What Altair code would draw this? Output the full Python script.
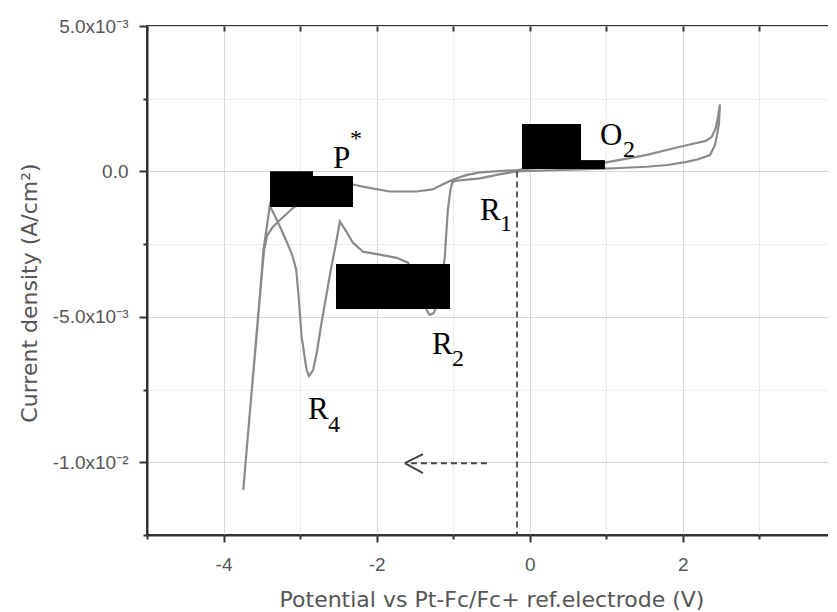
import json
import altair as alt
import pandas as pd

# ---------------- data ----------------
# cyclic voltammogram, in scan order: forward (towards negative), reverse, return
CV_E = [
    -0.17, -0.40, -0.65, -0.85, -0.96, -1.01, -1.03, -1.045, -1.07, -1.09, -1.11, -1.15, -1.21, -1.26,
    -1.31, -1.35, -1.40, -1.48, -1.59, -1.74, -1.96, -2.18, -2.31, -2.40, -2.48, -2.53, -2.60, -2.66,
    -2.72, -2.78, -2.83, -2.885, -2.915, -2.98, -3.02, -3.05, -3.10, -3.17, -3.28, -3.35, -3.39, -3.385,
    -3.40, -3.44, -3.48, -3.50, -3.59, -3.67, -3.742,
    -3.665, -3.585, -3.495, -3.47, -3.43, -3.36, -3.26, -3.09, -2.90, -2.60, -2.31, -2.13, -1.83, -1.48,
    -1.27, -1.14, -1.00, -0.82, -0.65, -0.40, -0.17, 0.00, 0.30, 0.65, 0.98, 1.25, 1.53, 1.75, 1.96, 2.15,
    2.30, 2.38, 2.43, 2.46, 2.484,
    2.47, 2.42, 2.354, 2.20, 2.05, 1.80, 1.53, 1.10, 0.656, 0.30, 0.00, -0.17,
]
CV_J = [
    0.0, -0.10e-3, -0.24e-3, -0.29e-3, -0.32e-3, -0.36e-3, -0.55e-3, -0.80e-3, -1.33e-3, -2.10e-3, -2.94e-3,
    -3.80e-3, -4.60e-3, -4.88e-3, -4.93e-3, -4.75e-3, -4.25e-3, -3.55e-3, -3.14e-3, -2.97e-3, -2.86e-3,
    -2.76e-3, -2.45e-3, -2.05e-3, -1.72e-3, -2.45e-3, -3.40e-3, -4.30e-3, -5.20e-3, -6.20e-3, -6.83e-3,
    -7.03e-3, -6.83e-3, -5.68e-3, -4.30e-3, -3.39e-3, -2.90e-3, -2.45e-3, -1.80e-3, -1.42e-3, -1.21e-3,
    -1.02e-3, -1.25e-3, -2.00e-3, -2.72e-3, -3.45e-3, -6.25e-3, -8.70e-3, -10.95e-3,
    -8.55e-3, -6.15e-3, -3.40e-3, -2.70e-3, -2.20e-3, -1.92e-3, -1.66e-3, -1.25e-3, -0.90e-3, -0.62e-3,
    -0.45e-3, -0.55e-3, -0.69e-3, -0.69e-3, -0.62e-3, -0.45e-3, -0.28e-3, -0.12e-3, -0.03e-3, 0.01e-3,
    0.05e-3, 0.10e-3, 0.16e-3, 0.23e-3, 0.30e-3, 0.43e-3, 0.57e-3, 0.71e-3, 0.85e-3, 0.96e-3, 1.05e-3,
    1.20e-3, 1.50e-3, 1.90e-3, 2.30e-3,
    1.60e-3, 0.91e-3, 0.56e-3, 0.42e-3, 0.33e-3, 0.22e-3, 0.16e-3, 0.11e-3, 0.07e-3, 0.04e-3, 0.02e-3, 0.0,
]

# black redaction boxes
BOX_X1 = [-3.393, -3.393, -2.531, -0.102, 0.669]
BOX_X2 = [-2.832, -2.309, -1.042, 0.669, 0.982]
BOX_Y1 = [0.01e-3, -0.16e-3, -3.18e-3, 1.63e-3, 0.39e-3]
BOX_Y2 = [-1.22e-3, -1.22e-3, -4.73e-3, 0.08e-3, 0.08e-3]

# peak labels (serif): main letters, subscripts, superscript
LABEL_TEXT = ["P", "R", "O", "R", "R"]
LABEL_X = [-2.571, -0.650, 0.917, -1.277, -2.897]
LABEL_Y = [0.12e-3, -1.67e-3, 0.91e-3, -6.28e-3, -8.51e-3]
SUB_TEXT = ["1", "2", "2", "4"]
SUB_X = [-0.389, 1.218, -1.016, -2.636]
SUB_Y = [-2.05e-3, 0.50e-3, -6.69e-3, -8.96e-3]
SUP_TEXT = ["*"]
SUP_X = [-2.349]
SUP_Y = [0.87e-3]

# dashed vertical marker and scan-direction arrow
VLINE_X = [-0.167]
VLINE_Y1 = [0.0]
VLINE_Y2 = [-0.0125]
ARROW_X1 = [-0.56]
ARROW_X2 = [-1.56]
ARROW_Y = [-10.03e-3]
HEAD_X1 = [-1.632, -1.632]
HEAD_X2 = [-1.395, -1.395]
HEAD_Y1 = [-10.03e-3, -10.03e-3]
HEAD_Y2 = [-9.72e-3, -10.37e-3]

# axes
X_DOMAIN = [-5, 4]
Y_DOMAIN = [-0.0125, 0.005]
X_TICKS = [-5, -4, -3, -2, -1, 0, 1, 2, 3, 4]
X_MAJOR = [-4, -2, 0, 2, 4]
X_MAJOR_LABELS = ["-4", "-2", "0", "2", "4"]
Y_TICKS = [-0.0125, -0.01, -0.0075, -0.005, -0.0025, 0.0, 0.0025, 0.005]
Y_MAJOR = [0.005, 0.0, -0.005, -0.01]
Y_MAJOR_LABELS = ["5.0x10\u207b\u00b3", "0.0", "-5.0x10\u207b\u00b3", "-1.0x10\u207b\u00b2"]
X_TITLE = "Potential vs Pt-Fc/Fc+ ref.electrode (V)"
Y_TITLE = "Current density (A/cm\u00b2)"

# ---------------- tables ----------------
cv_df = pd.DataFrame({"i": range(len(CV_E)), "E": CV_E, "J": CV_J})
box_df = pd.DataFrame({"x1": BOX_X1, "x2": BOX_X2, "y1": BOX_Y1, "y2": BOX_Y2})
lab_df = pd.DataFrame({"t": LABEL_TEXT, "x": LABEL_X, "y": LABEL_Y})
sub_df = pd.DataFrame({"t": SUB_TEXT, "x": SUB_X, "y": SUB_Y})
sup_df = pd.DataFrame({"t": SUP_TEXT, "x": SUP_X, "y": SUP_Y})
vline_df = pd.DataFrame({"x": VLINE_X, "y1": VLINE_Y1, "y2": VLINE_Y2})
arrow_df = pd.DataFrame({"x1": ARROW_X1, "x2": ARROW_X2, "y": ARROW_Y})
head_df = pd.DataFrame({"x1": HEAD_X1, "x2": HEAD_X2, "y1": HEAD_Y1, "y2": HEAD_Y2})

XS = alt.Scale(domain=X_DOMAIN, nice=False, zero=False)
YS = alt.Scale(domain=Y_DOMAIN, nice=False, zero=False)

x_test = "datum.value % 2 === 0"
y_keys = [int(round(v * 10000)) for v in Y_MAJOR]
y_test = "round(datum.value*10000) % 50 === 0"
x_label_expr = (
    f"indexof({json.dumps(X_MAJOR)}, datum.value) >= 0 ? "
    f"{json.dumps(X_MAJOR_LABELS)}[indexof({json.dumps(X_MAJOR)}, datum.value)] : ''"
)
y_label_expr = (
    f"indexof({json.dumps(y_keys)}, round(datum.value*10000)) >= 0 ? "
    f"{json.dumps(Y_MAJOR_LABELS, ensure_ascii=False)}[indexof({json.dumps(y_keys)}, round(datum.value*10000))] : ''"
)

AXIS_COLOR = "#333333"
TEXT_COLOR = "#555555"

x_axis_main = alt.Axis(
    values=X_TICKS, labelExpr=x_label_expr,
    grid=True,
    gridColor={"condition": {"test": x_test, "value": "#d6d6d6"}, "value": "#ebebeb"},
    gridWidth=1,
    tickSize={"condition": {"test": x_test, "value": 7}, "value": 4},
    tickColor=AXIS_COLOR, tickWidth=2, domainColor=AXIS_COLOR, domainWidth=2,
    labelFont="Liberation Sans", labelFontSize=19, labelColor=TEXT_COLOR, labelPadding=13,
    labelFlush=False, labelOverlap=False,
    title=X_TITLE, titleFont="DejaVu Sans", titleFontSize=22, titleFontWeight="normal",
    titleColor=TEXT_COLOR, titleX=344.5, titleY=71, titleAlign="center", titleBaseline="alphabetic",
)
y_axis_main = alt.Axis(
    values=Y_TICKS, labelExpr=y_label_expr,
    grid=True,
    gridColor={"condition": {"test": y_test, "value": "#d6d6d6"}, "value": "#ebebeb"},
    gridWidth=1,
    tickSize={"condition": {"test": y_test, "value": 8}, "value": 4},
    tickColor=AXIS_COLOR, tickWidth=2, domainColor=AXIS_COLOR, domainWidth=2,
    labelFont="Liberation Sans", labelFontSize=19, labelColor=TEXT_COLOR, labelPadding=11,
    labelFlush=False, labelOverlap=False,
    title=Y_TITLE, titleFont="DejaVu Sans", titleFontSize=22, titleFontWeight="normal",
    titleColor=TEXT_COLOR, titleX=-111, titleY=266.5, titleAngle=270, titleAlign="center",
    titleBaseline="alphabetic",
)
x_axis_top = alt.Axis(
    orient="top", values=X_TICKS, labels=False, grid=False, domain=False, title=None,
    tickSize=5, offset=-5, tickColor=AXIS_COLOR, tickWidth=2,
)
y_axis_right = alt.Axis(
    orient="right", values=Y_TICKS, labels=False, grid=False, domain=False, title=None,
    tickSize=5, offset=-5, tickColor=AXIS_COLOR, tickWidth=2,
)

curve = alt.Chart(cv_df).mark_line(color="#8a8a8a", strokeWidth=2.2).encode(
    x=alt.X("E:Q", scale=XS, axis=x_axis_main),
    y=alt.Y("J:Q", scale=YS, axis=y_axis_main),
    order="i:Q",
)
boxes = alt.Chart(box_df).mark_rect(color="black").encode(
    x=alt.X("x1:Q", scale=XS, axis=x_axis_top), x2="x2:Q",
    y=alt.Y("y1:Q", scale=YS, axis=y_axis_right), y2="y2:Q",
)
vline = alt.Chart(vline_df).mark_rule(color="#333333", strokeWidth=1.6, strokeDash=[6, 4]).encode(
    x=alt.X("x:Q", scale=XS, axis=None),
    y=alt.Y("y1:Q", scale=YS, axis=None), y2="y2:Q",
)
shaft = alt.Chart(arrow_df).mark_rule(color="#444444", strokeWidth=2, strokeDash=[6, 4]).encode(
    x=alt.X("x1:Q", scale=XS, axis=None), x2="x2:Q",
    y=alt.Y("y:Q", scale=YS, axis=None),
)
head = alt.Chart(head_df).mark_rule(color="#444444", strokeWidth=2).encode(
    x=alt.X("x1:Q", scale=XS, axis=None), x2="x2:Q",
    y=alt.Y("y1:Q", scale=YS, axis=None), y2="y2:Q",
)


def text_layer(df, size):
    return alt.Chart(df).mark_text(
        font="Liberation Serif", fontSize=size, color="black", align="left", baseline="alphabetic"
    ).encode(
        x=alt.X("x:Q", scale=XS, axis=None),
        y=alt.Y("y:Q", scale=YS, axis=None),
        text="t:N",
    )


chart = alt.layer(
    curve, boxes, vline, shaft, head,
    text_layer(lab_df, 31), text_layer(sub_df, 24), text_layer(sup_df, 24),
).resolve_axis(x="independent", y="independent").properties(
    width=689, height=509,
    autosize=alt.AutoSizeParams(type="none"),
    padding={"left": 139, "top": 18, "right": -8, "bottom": 77},
).configure_view(stroke=AXIS_COLOR, strokeWidth=2)

chart.save("out.html", embed_options={"renderer": "svg", "actions": False})
